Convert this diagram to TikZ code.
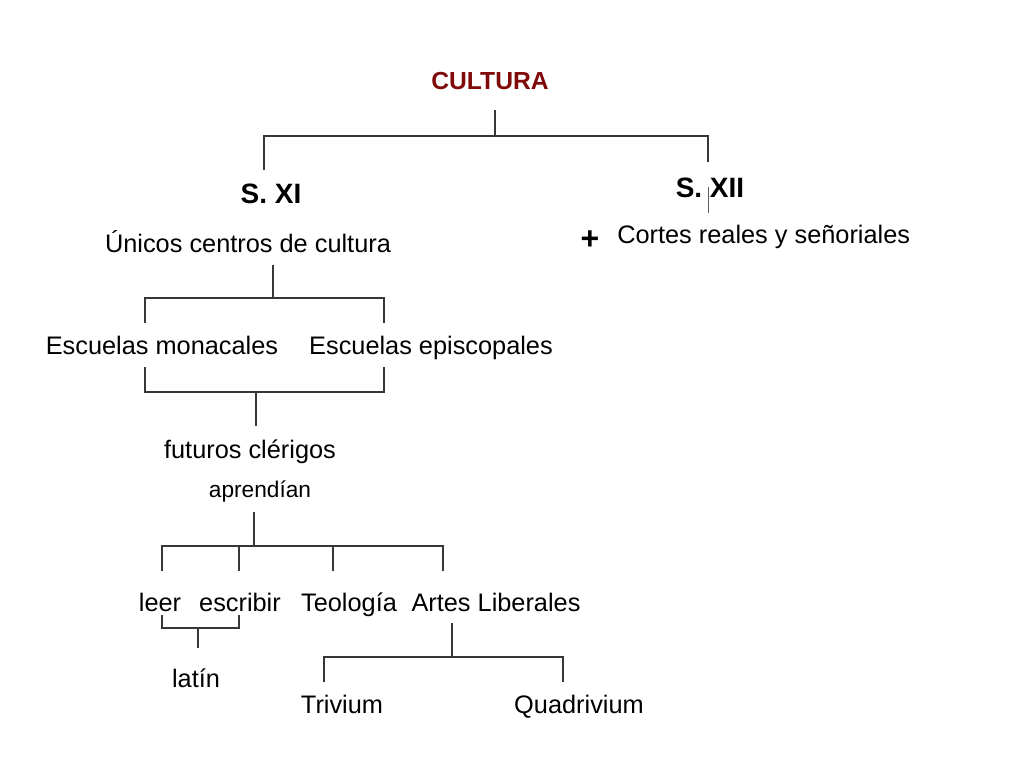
\documentclass[tikz,border=0pt]{standalone}
\usepackage{fontspec}
\setmainfont{Liberation Sans}
\usepackage{tikz}
\definecolor{culturared}{RGB}{128,10,10}
\definecolor{linegray}{RGB}{55,55,55}
\tikzstyle{word} = [inner sep=0pt,anchor=base,font=\fontsize{19}{23}\selectfont]
\tikzstyle{small word} = [word,font=\fontsize{17}{20}\selectfont]
\tikzstyle{century} = [word,font=\bfseries\fontsize{21}{25}\selectfont]
\tikzstyle{title} = [word,font=\bfseries\fontsize{18.5}{22}\selectfont,text=culturared]

\begin{document}
\begin{tikzpicture}[x=0.75pt,y=-0.75pt]
    \tikzstyle{branch} = [linegray,line width=1.1pt]
    \tikzstyle{tick} = [linegray!80,line width=0.7pt]

    \useasboundingbox (0,0) rectangle (1024,768);

    % texts
    \node[title]   (cultura)  at (490,89)  {CULTURA};
    \node[century] (sxi)      at (271,203) {S. XI};
    \node[century] (sxii)     at (710,197) {S. XII};
    \node[word]    (unicos)   at (248,252) {Únicos centros de cultura};
    \node[word,anchor=base west] (cortes) at (617,243) {Cortes reales y señoriales};
    \node[word,anchor=center,font=\bfseries\fontsize{24}{28}\selectfont] (plus) at (590,240) {+};
    \node[word]    (monacales)  at (162,354) {Escuelas monacales};
    \node[word]    (episcopales) at (431,354) {Escuelas episcopales};
    \node[word]    (futuros)  at (250,458) {futuros clérigos};
    \node[small word] (aprendian) at (260,497) {aprendían};
    \node[word]    (leer)     at (160,611) {leer};
    \node[word]    (escribir) at (240,611) {escribir};
    \node[word]    (teologia) at (349,611) {Teología};
    \node[word]    (artes)    at (496,611) {Artes Liberales};
    \node[word]    (latin)    at (196,687) {latín};
    \node[word]    (trivium)  at (342,713) {Trivium};
    \node[word]    (quadrivium) at (579,713) {Quadrivium};

    % cultura -> siglos
    \coordinate (cultura-stem) at (495,110);
    \coordinate (cultura-bar)  at (495,136);
    \coordinate (sxi-drop)     at (264,170);
    \coordinate (sxii-drop)    at (708,162);
    \draw[branch] (cultura-stem) -- (cultura-bar);
    \draw[branch] (sxi-drop) |- (cultura-bar) -| (sxii-drop);
    \coordinate (sxii-tick-a) at (708,187);
    \coordinate (sxii-tick-b) at (708,213);
    \draw[tick] (sxii-tick-a) -- (sxii-tick-b);

    % centros -> escuelas
    \coordinate (unicos-stem) at (273,265);
    \coordinate (unicos-bar)  at (273,298);
    \coordinate (monacales-drop)   at (145,323);
    \coordinate (episcopales-drop) at (384,323);
    \draw[branch] (unicos-stem) -- (unicos-bar);
    \draw[branch] (monacales-drop) |- (unicos-bar) -| (episcopales-drop);

    % escuelas -> futuros
    \coordinate (monacales-rise)   at (145,367);
    \coordinate (episcopales-rise) at (384,367);
    \coordinate (escuelas-bar)     at (256,392);
    \coordinate (futuros-top)      at (256,426);
    \draw[branch] (monacales-rise) |- (escuelas-bar) -| (episcopales-rise);
    \draw[branch] (escuelas-bar) -- (futuros-top);

    % aprendian -> materias
    \coordinate (aprendian-stem) at (254,512);
    \coordinate (aprendian-bar)  at (254,546);
    \coordinate (leer-drop)      at (162,571);
    \coordinate (escribir-drop)  at (239,571);
    \coordinate (teologia-drop)  at (333,571);
    \coordinate (artes-drop)     at (443,571);
    \draw[branch] (aprendian-stem) -- (aprendian-bar);
    \draw[branch] (leer-drop) |- (aprendian-bar) -| (artes-drop);
    \foreach \n in {escribir,teologia}
     \draw[branch] (\n-drop) -- (\n-drop |- aprendian-bar);

    % leer + escribir -> latin
    \coordinate (leer-rise)     at (162,615);
    \coordinate (escribir-rise) at (239,615);
    \coordinate (latin-bar)     at (198,628);
    \coordinate (latin-top)     at (198,648);
    \draw[branch] (leer-rise) |- (latin-bar) -| (escribir-rise);
    \draw[branch] (latin-bar) -- (latin-top);

    % artes -> trivium, quadrivium
    \coordinate (artes-stem)      at (452,623);
    \coordinate (artes-bar)       at (452,657);
    \coordinate (trivium-drop)    at (324,682);
    \coordinate (quadrivium-drop) at (563,682);
    \draw[branch] (artes-stem) -- (artes-bar);
    \draw[branch] (trivium-drop) |- (artes-bar) -| (quadrivium-drop);
\end{tikzpicture}
\end{document}
